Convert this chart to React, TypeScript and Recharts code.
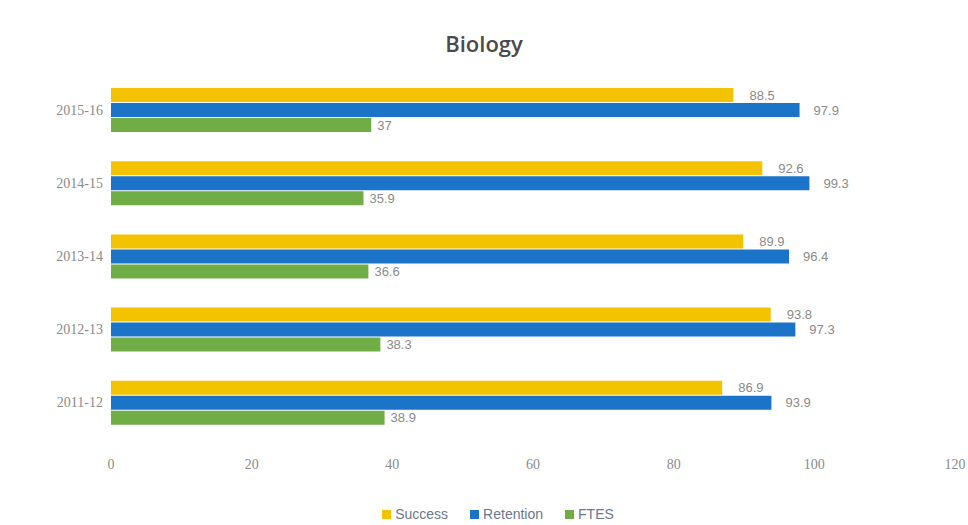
import { BarChart, Bar, XAxis, YAxis, Legend, LabelList } from 'recharts';

const years = ['2015-16', '2014-15', '2013-14', '2012-13', '2011-12'];
const success = [88.5, 92.6, 89.9, 93.8, 86.9];
const retention = [97.9, 99.3, 96.4, 97.3, 93.9];
const ftes = [37, 35.9, 36.6, 38.3, 38.9];
const xTicks = [0, 20, 40, 60, 80, 100, 120];

const seriesNames = ['Success', 'Retention', 'FTES'];
const seriesColors = ['#F3C300', '#1C74C8', '#70AD47'];

const data = years.map((year, i) => ({
  year,
  Success: success[i],
  Retention: retention[i],
  FTES: ftes[i],
}));

const tickStyle = { fill: '#8a8a8a', fontSize: 14, fontFamily: 'Liberation Serif' };
const labelStyle = { fill: '#8a8a8a', fontSize: 13, fontFamily: 'Liberation Sans' };

function LegendContent() {
  return (
    <div style={{ display: 'flex', justifyContent: 'center', gap: 22, fontFamily: 'Liberation Sans', fontSize: 14, color: '#6a7890' }}>
      {seriesNames.map((name, i) => (
        <span key={name} style={{ display: 'flex', alignItems: 'center', gap: 4 }}>
          <span style={{ display: 'inline-block', width: 9, height: 9, background: seriesColors[i] }} />
          {name}
        </span>
      ))}
    </div>
  );
}

export default function App() {
  return (
    <div style={{ position: 'absolute', left: 0, top: 0, width: 968, height: 525, background: '#fff' }}>
      <div
        style={{
          position: 'absolute',
          top: 28,
          left: 0,
          width: 968,
          textAlign: 'center',
          fontFamily: 'Open Sans',
          fontSize: 22,
          fontWeight: 600,
          color: '#4a4a4a',
        }}
      >
        Biology
      </div>
      <BarChart
        width={968}
        height={525}
        data={data}
        layout="vertical"
        margin={{ top: 73, right: 13, left: 41, bottom: 0 }}
        barSize={14}
        barGap={1}
        barCategoryGap="21%"
      >
        <XAxis
          type="number"
          domain={[0, 120]}
          ticks={xTicks}
          axisLine={false}
          tickLine={false}
          tick={tickStyle}
          height={42}
          tickMargin={14}
        />
        <YAxis
          type="category"
          dataKey="year"
          width={70}
          axisLine={false}
          tickLine={false}
          tick={tickStyle}
        />
        <Legend
          verticalAlign="bottom"
          height={44}
          content={<LegendContent />}
          wrapperStyle={{ top: 506, bottom: 'auto' }}
        />
        <Bar dataKey="Success" fill={seriesColors[0]} isAnimationActive={false}>
          <LabelList dataKey="Success" position="right" offset={16} style={labelStyle} />
        </Bar>
        <Bar dataKey="Retention" fill={seriesColors[1]} isAnimationActive={false}>
          <LabelList dataKey="Retention" position="right" offset={14} style={labelStyle} />
        </Bar>
        <Bar dataKey="FTES" fill={seriesColors[2]} isAnimationActive={false}>
          <LabelList dataKey="FTES" position="right" offset={6} style={labelStyle} />
        </Bar>
      </BarChart>
    </div>
  );
}
